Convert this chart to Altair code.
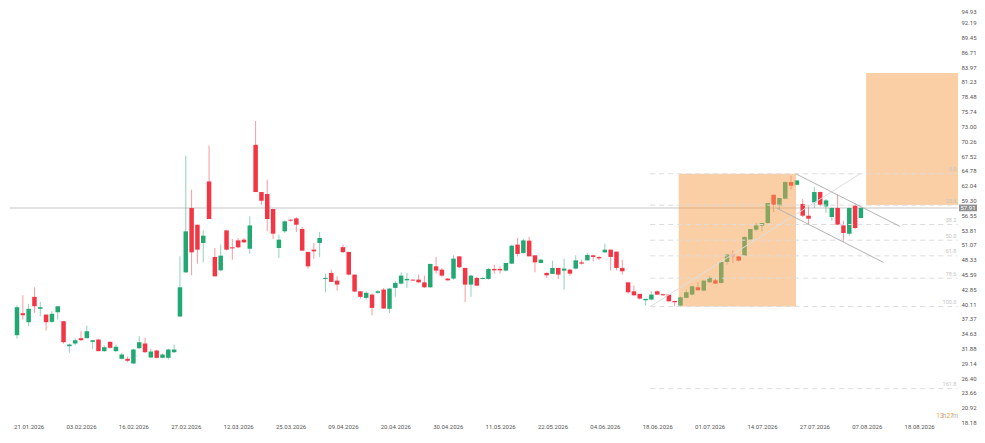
import altair as alt
import pandas as pd

# ---- data ----
date_labels = ["21.01.2026", "03.02.2026", "16.02.2026", "27.02.2026", "12.03.2026",
               "25.03.2026", "09.04.2026", "20.04.2026", "30.04.2026", "11.05.2026",
               "22.05.2026", "04.06.2026", "18.06.2026", "01.07.2026", "14.07.2026",
               "27.07.2026", "07.08.2026", "18.08.2026"]
price_ticks = [94.93, 92.19, 89.45, 86.71, 83.97, 81.23, 78.48, 75.74, 73.00, 70.26,
               67.52, 64.78, 62.04, 59.30, 56.55, 53.81, 51.07, 48.33, 45.59, 42.85,
               40.11, 37.37, 34.63, 31.88, 29.14, 26.40, 23.66, 20.92, 18.18]

opens = [34.34, 38.41, 36.74, 41.44, 39.22, 38.16, 36.81, 38.59, 36.93, 32.30,
         32.80, 33.78, 33.78, 33.11, 33.54, 31.38, 33.11, 31.38, 29.97, 29.97,
         29.10, 31.93, 32.80, 30.21, 31.50, 30.15, 30.15, 31.19, 37.79, 45.98,
         57.89, 54.80, 51.42, 62.81, 48.83, 46.35, 53.75, 50.61, 51.90, 52.03,
         50.35, 69.60, 60.85, 60.48, 57.71, 50.49, 53.57, 55.73, 55.97, 54.01,
         49.76, 50.18, 51.42, 44.76, 45.87, 44.45, 50.64, 49.76, 45.56, 42.47,
         41.25, 41.86, 42.18, 42.79, 39.22, 43.10, 43.89, 44.50, 44.63, 44.63,
         44.13, 43.21, 47.09, 46.48, 44.82, 44.82, 48.94, 46.80, 43.71, 44.95,
         44.76, 44.76, 46.61, 46.61, 46.30, 47.59, 51.11, 49.57, 51.85, 49.13,
         47.72, 45.87, 45.69, 46.80, 46.30, 46.48, 46.67, 47.83, 48.20, 49.13,
         48.83, 49.68, 50.18, 49.81, 46.80, 44.13, 42.47, 41.99, 40.81, 40.94,
         42.47, 41.92, 41.86, 40.69, 39.83, 41.25, 41.86, 43.21, 42.60, 44.13,
         44.50, 44.02, 47.91, 49.26, 48.94, 49.07, 52.03, 53.88, 54.62, 55.12,
         60.35, 58.32, 59.61, 62.70, 62.19, 58.63, 56.47, 58.93, 60.85, 58.19,
         56.23, 57.89, 54.67, 53.14, 58.32, 56.04]
highs = [39.89, 41.74, 40.14, 43.21, 40.51, 38.16, 38.78, 39.70, 36.93, 32.80,
         33.78, 35.08, 36.13, 33.41, 33.67, 32.48, 33.22, 32.61, 31.08, 30.34,
         31.82, 34.15, 33.85, 31.82, 31.69, 30.95, 31.82, 32.61, 48.94, 67.56,
         61.28, 54.80, 53.75, 69.47, 50.49, 51.11, 53.75, 52.16, 52.34, 52.34,
         56.34, 74.03, 60.85, 63.12, 57.71, 52.95, 55.60, 55.80, 56.23, 54.38,
         49.76, 51.42, 53.45, 45.74, 46.48, 45.24, 51.11, 49.76, 45.56, 42.47,
         42.47, 42.05, 42.66, 43.10, 43.10, 44.32, 45.98, 45.87, 44.70, 45.56,
         45.37, 47.54, 48.83, 46.80, 44.91, 49.13, 48.94, 46.80, 45.56, 45.13,
         45.05, 46.80, 47.41, 47.09, 47.72, 51.11, 52.34, 52.16, 52.53, 49.13,
         48.40, 45.98, 48.15, 46.80, 48.52, 46.61, 49.13, 48.33, 49.57, 49.26,
         48.94, 51.29, 50.18, 49.81, 48.33, 44.13, 43.52, 41.99, 41.06, 42.47,
         42.60, 42.05, 41.86, 40.69, 41.49, 42.79, 43.52, 44.13, 44.45, 45.24,
         44.95, 47.91, 49.39, 50.05, 48.94, 52.64, 54.01, 55.12, 55.12, 58.82,
         60.35, 59.74, 62.81, 63.86, 63.12, 59.56, 58.37, 61.77, 60.96, 59.56,
         58.00, 60.35, 55.54, 58.00, 58.82, 58.00]
lows = [33.72, 37.24, 36.00, 38.48, 37.85, 35.20, 36.63, 37.24, 32.80, 31.08,
        32.48, 33.30, 33.78, 31.82, 31.38, 31.26, 31.87, 31.26, 29.84, 29.34,
        28.97, 31.82, 31.08, 30.08, 30.02, 30.08, 29.84, 31.08, 37.79, 45.87,
        45.43, 47.59, 47.83, 55.86, 45.24, 46.17, 50.05, 48.33, 50.49, 51.42,
        49.44, 60.85, 58.50, 53.57, 52.16, 48.65, 53.27, 55.36, 53.45, 50.00,
        46.67, 48.52, 48.83, 42.29, 44.21, 42.60, 49.57, 45.43, 42.29, 41.12,
        40.94, 37.98, 42.05, 39.27, 38.48, 41.44, 43.71, 43.10, 44.38, 44.02,
        43.10, 43.10, 45.74, 45.13, 44.45, 44.63, 46.80, 40.44, 41.44, 43.39,
        44.70, 44.63, 45.74, 45.74, 46.17, 47.54, 48.94, 49.44, 48.94, 45.98,
        47.65, 44.95, 45.69, 44.76, 42.79, 45.37, 46.54, 47.41, 48.15, 48.02,
        48.20, 49.57, 46.35, 46.35, 45.56, 42.05, 41.55, 40.94, 39.83, 40.85,
        41.73, 41.67, 40.51, 39.70, 39.74, 41.25, 41.73, 42.60, 42.47, 44.02,
        43.84, 43.89, 47.41, 47.72, 48.02, 49.07, 51.90, 53.57, 53.57, 54.99,
        57.15, 57.58, 59.52, 61.28, 62.07, 56.23, 54.80, 57.89, 58.19, 56.97,
        55.54, 54.80, 51.61, 52.77, 54.01, 55.97]
closes = [39.52, 38.04, 39.22, 39.70, 39.52, 36.74, 38.29, 39.70, 33.04, 32.61,
          33.41, 33.41, 35.08, 33.41, 31.38, 32.12, 32.00, 32.19, 30.76, 29.60,
          31.69, 33.04, 31.19, 31.32, 30.15, 30.76, 31.69, 31.69, 43.21, 53.57,
          49.68, 50.18, 52.77, 55.86, 45.24, 49.07, 50.18, 50.42, 50.61, 51.53,
          54.67, 60.85, 59.24, 55.86, 53.14, 52.03, 55.42, 55.55, 54.80, 50.00,
          47.09, 49.87, 52.34, 44.95, 44.21, 43.71, 49.72, 45.56, 42.42, 41.44,
          42.18, 39.40, 42.47, 39.27, 42.97, 44.02, 45.37, 44.76, 44.45, 44.13,
          43.21, 47.54, 46.30, 45.37, 44.50, 48.52, 46.91, 43.71, 45.37, 43.52,
          44.95, 46.61, 46.35, 46.35, 47.72, 50.92, 49.39, 51.90, 48.94, 47.83,
          48.33, 45.43, 46.80, 45.56, 46.67, 45.74, 48.20, 47.59, 49.20, 48.83,
          48.57, 50.18, 48.83, 46.80, 46.17, 42.29, 41.73, 41.12, 41.06, 41.86,
          41.86, 41.73, 40.62, 40.44, 41.36, 42.29, 43.39, 42.66, 44.45, 44.95,
          43.89, 47.91, 49.26, 48.94, 48.15, 52.53, 54.01, 54.67, 55.12, 58.82,
          58.50, 59.74, 62.70, 62.02, 62.99, 56.47, 55.91, 60.85, 58.50, 59.30,
          57.89, 54.80, 53.27, 57.89, 54.19, 57.91]

last_price = 57.91
fib_names = ["0.0", "23.6", "38.2", "50.0", "61.8", "78.6", "100.0", "161.8"]
fib_ratios = [0.0, 0.236, 0.382, 0.5, 0.618, 0.786, 1.0, 1.618]
fib_top = 64.23
fib_bottom = 39.64
fib_start_bar = 108.8
fib_end_bar = 161.6

# pattern boxes (bar index / price)
box_x0 = [113.7, 145.9]
box_x1 = [133.85, 161.68]
box_lo = [39.64, 58.43]
box_hi = [64.23, 82.91]

# trend / channel segments (bar index / price)
seg_x0 = [108.8, 133.8, 130.5]
seg_x1 = [144.85, 151.7, 148.85]
seg_y0 = [39.64, 64.23, 57.89]
seg_y1 = [64.23, 54.49, 47.83]
seg_kind = ["trend", "channel", "channel"]

countdown_parts = ["13", "h", "27", "m"]
countdown_colors = ["#f39c3a", "#b0b0b0", "#f39c3a", "#b0b0b0"]

# ---- frames ----
n = len(opens)
candles = pd.DataFrame({
    "i": list(range(n)), "open": opens, "high": highs, "low": lows, "close": closes,
})
candles["dir"] = ["up" if c >= o else "down" for o, c in zip(opens, closes)]

fib_levels = [fib_top - r * (fib_top - fib_bottom) for r in fib_ratios]
fib = pd.DataFrame({"name": fib_names, "level": fib_levels,
                    "x0": [fib_start_bar] * len(fib_names), "x1": [fib_end_bar] * len(fib_names),
                    "xl": [fib_end_bar - 0.2] * len(fib_names)})
boxes = pd.DataFrame({"x0": box_x0, "x1": box_x1, "lo": box_lo, "hi": box_hi})
segs = pd.DataFrame({"x0": seg_x0, "x1": seg_x1, "y0": seg_y0, "y1": seg_y1, "kind": seg_kind})
pline = pd.DataFrame({"x0": [-1.2], "x1": [161.6], "p": [last_price]})
tag = pd.DataFrame({"x0": [161.85], "x1": [164.95], "xc": [163.4],
                    "lo": [last_price - 0.62], "hi": [last_price + 0.62], "p": [last_price],
                    "label": [f"{last_price:.2f}"]})
# countdown pieces laid out right to left from the plot's right edge
cd = pd.DataFrame({"x": [159.2, 159.62, 160.95, 161.68], "y": [19.4] * 4,
                   "t": countdown_parts, "c": countdown_colors})

GREEN = "#21a873"
RED = "#f23645"
FONT = "Roboto"

xscale = alt.Scale(domain=[-1.546, 161.68], nice=False, zero=False, padding=0)
yscale = alt.Scale(domain=[18.08, 94.93], nice=False, zero=False, padding=0)
tick_idx = [2 + 9 * k for k in range(len(date_labels))]
label_arr = "[" + ",".join("'" + d + "'" for d in date_labels) + "]"
xaxis = alt.Axis(values=tick_idx, labelExpr=f"{label_arr}[(datum.value-2)/9]",
                 title=None, grid=False, ticks=False, domain=False, labelFontSize=6,
                 labelColor="#555555", labelPadding=0, labelFlush=False, labelFont=FONT)
yaxis = alt.Axis(values=price_ticks, format=".2f", orient="right", title=None, grid=False,
                 ticks=False, domain=False, labelFontSize=6, labelColor="#555555",
                 labelPadding=3, labelOverlap=False, labelFlush=False, labelFont=FONT,
                 labelBaseline={"condition": {"test": "datum.value > 94", "value": "top"},
                                "value": "middle"})


def X(f):
    return alt.X(f, type="quantitative", scale=xscale, axis=xaxis)


def Y(f):
    return alt.Y(f, type="quantitative", scale=yscale, axis=yaxis)


color = alt.Color("dir:N", scale=alt.Scale(domain=["up", "down"], range=[GREEN, RED]), legend=None)

price_line = alt.Chart(pline).mark_rule(color="#d9d9d9", strokeWidth=1.5).encode(
    x=X("x0"), x2="x1", y=Y("p"))

wicks = alt.Chart(candles).mark_rule(strokeWidth=1, opacity=0.5).encode(
    x=X("i"), y=Y("low"), y2="high", color=color)

bodies = alt.Chart(candles).mark_bar(size=4.5).encode(
    x=X("i"), y=Y("open"), y2="close", color=color)

box_layer = alt.Chart(boxes).mark_rect(color="#f5a04b", opacity=0.5).encode(
    x=X("x0"), x2="x1", y=Y("lo"), y2="hi")

fib_lines = alt.Chart(fib).mark_rule(color="#dcdcdc", strokeWidth=1, strokeDash=[5, 4]).encode(
    x=X("x0"), x2="x1", y=Y("level"))

fib_text = alt.Chart(fib).mark_text(align="right", baseline="bottom", dy=-1.5, fontSize=5.5,
                                    color="#c4c4c4", font=FONT).encode(
    x=X("xl"), y=Y("level"), text="name:N")

seg_layer = alt.Chart(segs).mark_rule(strokeWidth=1).encode(
    x=X("x0"), x2="x1", y=Y("y0"), y2="y1",
    color=alt.Color("kind:N", scale=alt.Scale(domain=["trend", "channel"],
                                             range=["#dedede", "#b3b3b3"]), legend=None))

tag_rect = alt.Chart(tag).mark_rect(color="#8f8f8f", clip=False).encode(
    x=X("x0"), x2="x1", y=Y("lo"), y2="hi")
tag_text = alt.Chart(tag).mark_text(color="white", fontSize=6, font=FONT, clip=False).encode(
    x=X("xc"), y=Y("p"), text="label:N")

cd_text = alt.Chart(cd).mark_text(fontSize=6.5, align="right", font=FONT).encode(
    x=X("x"), y=Y("y"), text="t:N", color=alt.Color("c:N", scale=None))

chart = alt.layer(
    price_line, wicks, bodies, box_layer, fib_lines, fib_text, seg_layer,
    tag_rect, tag_text, cd_text
).resolve_scale(color="independent").properties(
    width=950, height=415,
    autosize=alt.AutoSizeParams(type="none"),
    padding={"left": 0, "top": 0, "right": 19, "bottom": 6},
).configure_view(stroke="transparent", strokeWidth=0)

chart.save("out.html", embed_options={"renderer": "svg", "actions": False})
